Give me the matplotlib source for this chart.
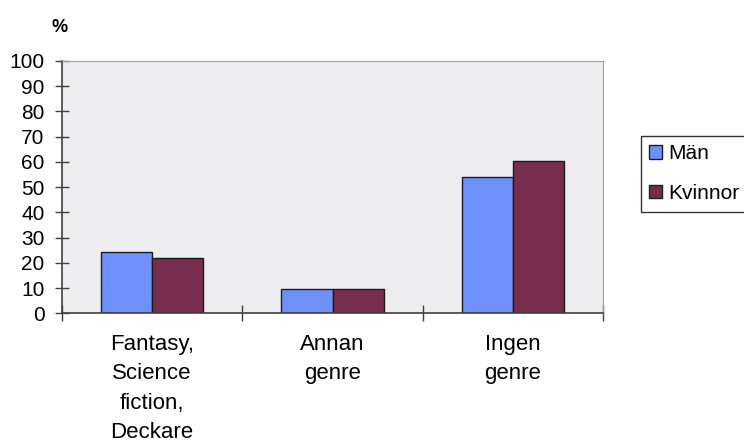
import numpy as np
import matplotlib.pyplot as plt

# data
categories = ["Fantasy,\nScience\nfiction,\nDeckare", "Annan\ngenre", "Ingen\ngenre"]
man = [24.4, 9.5, 53.9]
kvinnor = [22.0, 9.5, 60.5]
series_names = ["Män", "Kvinnor"]

plt.rcParams['font.family'] = ['Liberation Sans', 'DejaVu Sans']

fig = plt.figure(figsize=(7.44, 4.46), dpi=100)
ax = fig.add_axes([62 / 744, 1 - 313.3 / 446, 541 / 744, 252.3 / 446])
ax.set_facecolor("#EDEDF0")

x = np.arange(len(categories)) + 0.5
w = 0.283
ax.bar(x - w / 2, man, w, color="#6F8FFA", edgecolor="#1a1a2a", linewidth=1.0, label=series_names[0])
ax.bar(x + w / 2, kvinnor, w, color="#782D4F", edgecolor="#1a1a1a", linewidth=1.0, label=series_names[1])

ax.set_xlim(0, 3)
ax.set_ylim(0, 100)
ax.set_yticks(np.arange(0, 101, 10))
ax.tick_params(axis='y', direction='inout', length=10, width=1, colors="#404040",
               labelcolor="black", labelsize=15, pad=7.5)

# boundary ticks on x axis, labels in the middle of each group
ax.set_xticks([0, 1, 2, 3])
ax.set_xticklabels([])
ax.tick_params(axis='x', which='major', direction='inout', length=12, width=1, colors="#404040")
ax.set_xticks(x, minor=True)
ax.set_xticklabels(categories, minor=True, fontsize=16, linespacing=1.52)
ax.tick_params(axis='x', which='minor', length=0, pad=15, labelcolor="black")

for s in ["top", "right"]:
    ax.spines[s].set_color("#A0A0A0")
for s in ["left", "bottom"]:
    ax.spines[s].set_color("#404040")
    ax.spines[s].set_linewidth(1.2)

fig.text(60 / 744, 1 - 27 / 446, "%", fontsize=13, fontweight='bold', ha='center', va='center')

leg = ax.legend(loc='upper left', bbox_to_anchor=(641 / 744, 1 - 136 / 446),
                bbox_transform=fig.transFigure, fontsize=15, frameon=True, fancybox=False,
                handlelength=0.6, handleheight=0.6, handletextpad=0.3, labelspacing=1.0,
                borderpad=0.4, borderaxespad=0)
leg.get_frame().set_edgecolor("black")
leg.get_frame().set_linewidth(1.0)

fig.savefig("out.png", dpi=100)
